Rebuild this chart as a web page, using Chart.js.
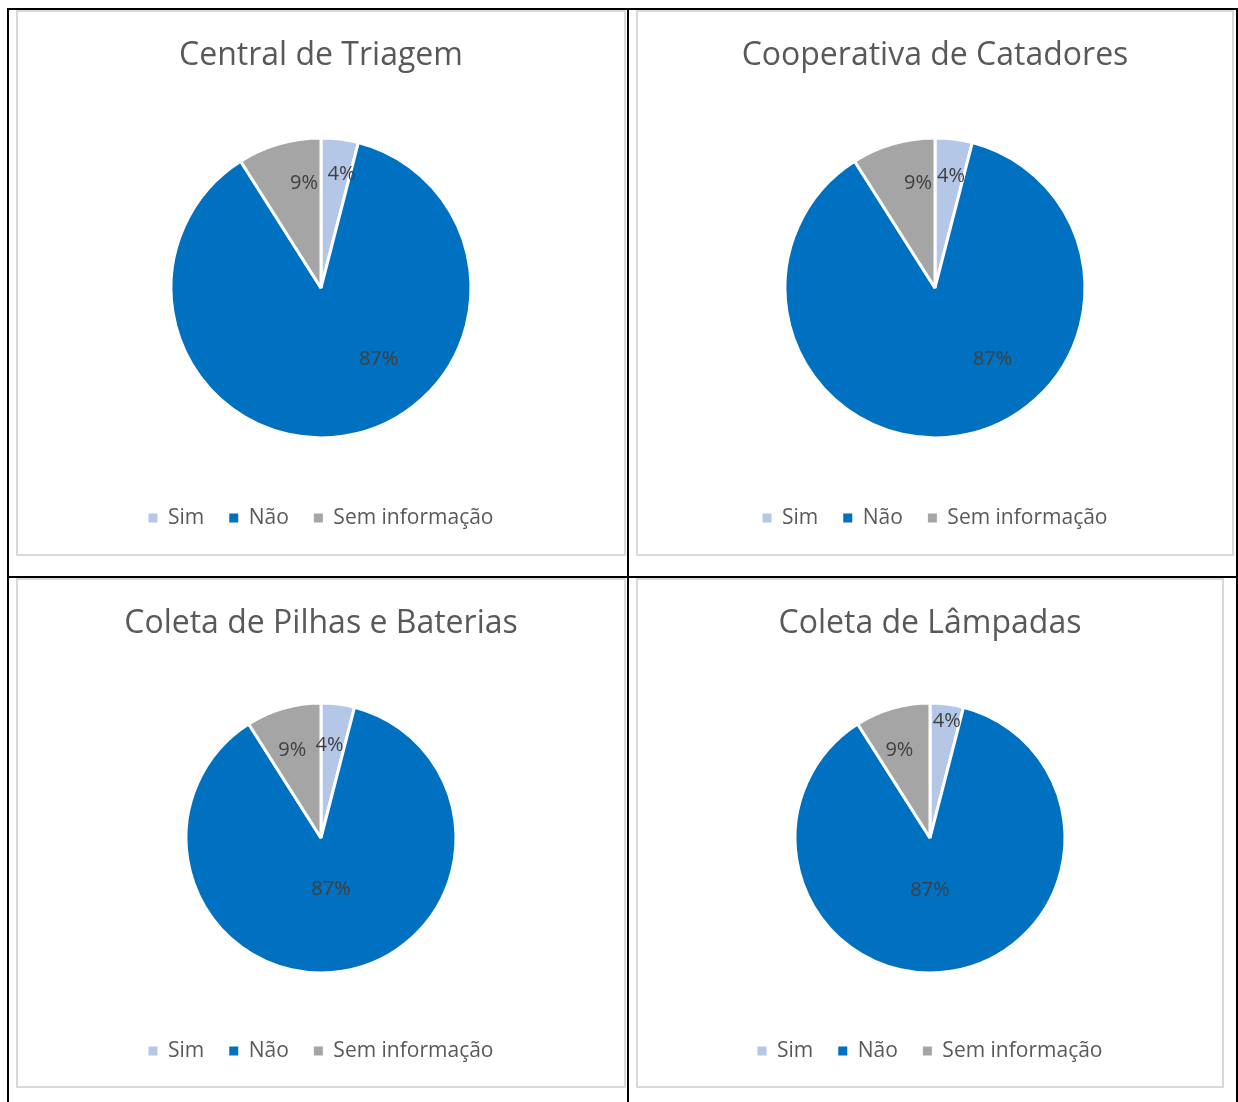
<!DOCTYPE html>
<html>
<head>
<meta charset="utf-8">
<script src="https://cdn.jsdelivr.net/npm/chart.js@4"></script>
<style>
  body { margin: 0; background: #fff; }
  #page { position: relative; width: 1238px; height: 1102px; overflow: hidden; }
  .line { position: absolute; background: #000; }
  .box { position: absolute; border: 2px solid #d9d9d9; box-sizing: border-box; background: #fff; }
  .box canvas { display: block; }
</style>
</head>
<body>
<div id="page">
  <!-- linhas da tabela -->
  <div class="line" style="left:7px; top:8px; width:1231px; height:2px;"></div>
  <div class="line" style="left:7px; top:576px; width:1231px; height:2px;"></div>
  <div class="line" style="left:7px; top:8px; width:2px; height:1094px;"></div>
  <div class="line" style="left:627px; top:8px; width:2px; height:1094px;"></div>
  <div class="line" style="left:1236px; top:8px; width:2px; height:1094px;"></div>

  <div class="box" style="left:16px; top:10px; width:610px; height:546px;"><canvas id="c1"></canvas></div>
  <div class="box" style="left:636px; top:10px; width:598px; height:546px;"><canvas id="c2"></canvas></div>
  <div class="box" style="left:16px; top:578px; width:610px; height:510px;"><canvas id="c3"></canvas></div>
  <div class="box" style="left:636px; top:578px; width:588px; height:510px;"><canvas id="c4"></canvas></div>
</div>

<script>
'use strict';

// Dados
const categorias = ['Sim', 'Não', 'Sem informação'];
const cores = ['#B4C7E7', '#0070C0', '#A5A5A5'];

const titulos = ['Central de Triagem', 'Cooperativa de Catadores', 'Coleta de Pilhas e Baterias', 'Coleta de Lâmpadas'];

const centralTriagem = [4, 87, 9];
const cooperativaCatadores = [4, 87, 9];
const coletaPilhas = [4, 87, 9];
const coletaLampadas = [4, 87, 9];

// Plugin simples para os rótulos de porcentagem
const rotulos = {
  id: 'rotulos',
  afterDatasetsDraw(chart, args, opts) {
    const ctx = chart.ctx;
    const meta = chart.getDatasetMeta(0);
    const dados = chart.data.datasets[0].data;
    const total = dados.reduce((a, b) => a + b, 0);
    ctx.save();
    ctx.font = '20px "Open Sans"';
    ctx.fillStyle = '#404040';
    ctx.textAlign = 'center';
    ctx.textBaseline = 'middle';
    meta.data.forEach((arc, i) => {
      const p = arc.getProps(['x', 'y', 'startAngle', 'endAngle', 'outerRadius'], true);
      const pos = opts.pos[i];
      const ang = (p.startAngle + p.endAngle) / 2 + pos.shift * Math.PI / 180;
      const r = p.outerRadius * pos.f;
      const txt = Math.round(dados[i] / total * 100) + '%';
      ctx.fillText(txt, p.x + Math.cos(ang) * r, p.y + Math.sin(ang) * r);
    });
    ctx.restore();
  }
};

function criarGrafico(id, titulo, valores, tam) {
  new Chart(document.getElementById(id), {
    type: 'pie',
    data: {
      labels: categorias,
      datasets: [{
        data: valores,
        backgroundColor: cores,
        borderColor: '#ffffff',
        borderWidth: 3,
        hoverOffset: 0
      }]
    },
    options: {
      responsive: false,
      animation: false,
      radius: tam.raio,
      layout: { padding: { top: 0, bottom: tam.padBaixo } },
      plugins: {
        title: {
          display: true,
          text: titulo,
          color: '#595959',
          font: { family: 'Open Sans', size: 32, weight: 'normal' },
          padding: { top: 25, bottom: tam.padTitulo }
        },
        legend: {
          position: 'bottom',
          labels: {
            boxWidth: 9,
            boxHeight: 9,
            color: '#595959',
            font: { family: 'Open Sans', size: 21 },
            padding: 25,
            // quadradinhos sem a borda branca das fatias
            generateLabels(chart) {
              const itens = Chart.overrides.pie.plugins.legend.labels.generateLabels(chart);
              return itens.map(it => Object.assign(it, { lineWidth: 0, strokeStyle: it.fillStyle }));
            }
          }
        },
        tooltip: { enabled: false },
        rotulos: { pos: tam.rotulos }
      }
    },
    plugins: [rotulos]
  });
}

function prepararCanvas(id) {
  const c = document.getElementById(id);
  const box = c.parentElement;
  c.width = box.clientWidth;
  c.height = box.clientHeight;
  c.style.width = box.clientWidth + 'px';
  c.style.height = box.clientHeight + 'px';
}

['c1', 'c2', 'c3', 'c4'].forEach(prepararCanvas);

const topo = { raio: 150, padTitulo: 18, padBaixo: 15.5 };
const baixo = { raio: 135, padTitulo: 17, padBaixo: 14.5 };

criarGrafico('c1', titulos[0], centralTriagem, Object.assign({}, topo, {
  rotulos: [{ f: 0.77, shift: 3 }, { f: 0.61, shift: -30 }, { f: 0.71, shift: 7 }]
}));
criarGrafico('c2', titulos[1], cooperativaCatadores, Object.assign({}, topo, {
  rotulos: [{ f: 0.75, shift: 1 }, { f: 0.61, shift: -30 }, { f: 0.71, shift: 7 }]
}));
criarGrafico('c3', titulos[2], coletaPilhas, Object.assign({}, baixo, {
  rotulos: [{ f: 0.69, shift: -2 }, { f: 0.39, shift: -2 }, { f: 0.68, shift: -2 }]
}));
criarGrafico('c4', titulos[3], coletaLampadas, Object.assign({}, baixo, {
  rotulos: [{ f: 0.87, shift: 1 }, { f: 0.385, shift: 9 }, { f: 0.69, shift: -3 }]
}));
</script>
</body>
</html>
